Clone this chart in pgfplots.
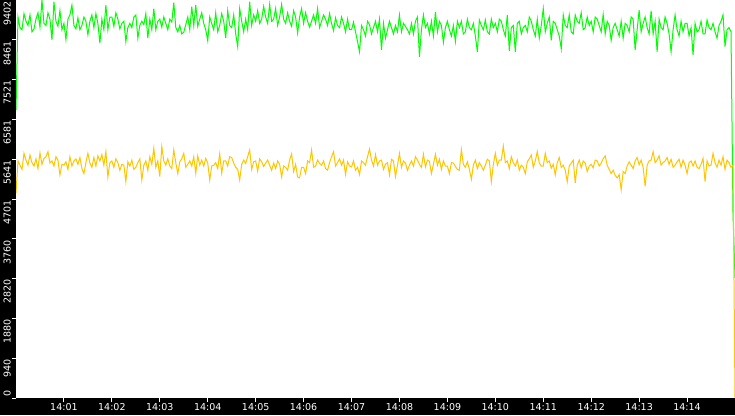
\documentclass[border=0pt]{standalone}
\usepackage{fontspec}
\setmainfont{DejaVu Sans}
\usepackage{pgfplots}
\pgfplotsset{compat=1.18}
\usepackage{pgfplotstable}
\definecolor{linegreen}{RGB}{0,255,0}
\definecolor{lineyellow}{RGB}{255,198,0}

% one sample every 2.5 s, 24 per minute, starting at 14:00
\pgfplotstableread[row sep=\\]{
v\\
6800\\ 9000\\ 8750\\ 8700\\ 9080\\ 8900\\ 8800\\ 9050\\ 8650\\ 8720\\ 8950\\ 9100\\ 8760\\ 9400\\ 8850\\ 8800\\ 9100\\ 8950\\ 8460\\ 9360\\ 8900\\ 8780\\ 9150\\ 8700\\
8850\\ 8470\\ 8950\\ 9050\\ 9280\\ 8800\\ 8720\\ 8980\\ 8700\\ 8800\\ 9000\\ 8900\\ 8580\\ 8900\\ 9050\\ 8750\\ 9080\\ 8850\\ 8380\\ 8950\\ 8700\\ 9280\\ 8700\\ 9000\\
9000\\ 8780\\ 9100\\ 8950\\ 8720\\ 8850\\ 8900\\ 8420\\ 8750\\ 8850\\ 8750\\ 9000\\ 9050\\ 8500\\ 8800\\ 8900\\ 8820\\ 9080\\ 8500\\ 8950\\ 8700\\ 9200\\ 8700\\ 8900\\
8950\\ 8760\\ 9000\\ 8850\\ 8700\\ 8950\\ 8880\\ 9340\\ 8750\\ 8650\\ 8800\\ 8600\\ 8640\\ 8820\\ 9000\\ 8700\\ 9245\\ 8800\\ 9280\\ 8780\\ 8950\\ 9100\\ 8850\\ 8700\\
8440\\ 9000\\ 8850\\ 8700\\ 9100\\ 8650\\ 8800\\ 9080\\ 8900\\ 8500\\ 9150\\ 8800\\ 8750\\ 9050\\ 8600\\ 8300\\ 9200\\ 8900\\ 8650\\ 8950\\ 8700\\ 9360\\ 8800\\ 9050\\
8900\\ 9150\\ 8850\\ 8950\\ 9250\\ 9000\\ 8850\\ 9300\\ 8900\\ 8950\\ 9200\\ 8800\\ 9000\\ 9300\\ 8950\\ 8850\\ 9100\\ 8900\\ 8780\\ 9150\\ 9000\\ 8620\\ 9000\\ 9200\\
8850\\ 9100\\ 8900\\ 8760\\ 8900\\ 9050\\ 8850\\ 9200\\ 8750\\ 8900\\ 9050\\ 8950\\ 8800\\ 9080\\ 8850\\ 8680\\ 8980\\ 8800\\ 8750\\ 9000\\ 8850\\ 8650\\ 8950\\ 8700\\
8700\\ 8880\\ 8650\\ 8420\\ 8180\\ 8800\\ 8700\\ 8550\\ 8900\\ 8820\\ 8600\\ 8750\\ 8900\\ 8650\\ 8950\\ 8220\\ 8850\\ 8500\\ 8700\\ 8900\\ 8750\\ 8600\\ 8800\\ 8650\\
9050\\ 8650\\ 8850\\ 8780\\ 8700\\ 8600\\ 8850\\ 8600\\ 8900\\ 9000\\ 8060\\ 8700\\ 9050\\ 8750\\ 8850\\ 8600\\ 8900\\ 8550\\ 9120\\ 8650\\ 8900\\ 8800\\ 8400\\ 8750\\
8900\\ 8700\\ 8550\\ 8800\\ 8420\\ 8900\\ 8750\\ 8900\\ 8600\\ 8650\\ 8950\\ 8750\\ 8700\\ 8850\\ 8550\\ 8180\\ 8930\\ 8800\\ 8700\\ 8930\\ 8650\\ 8600\\ 8950\\ 8750\\
8850\\ 8650\\ 8950\\ 8900\\ 8700\\ 8550\\ 9050\\ 8200\\ 8750\\ 8800\\ 8180\\ 8850\\ 8900\\ 8600\\ 8750\\ 8800\\ 8650\\ 9000\\ 8900\\ 8700\\ 8550\\ 8950\\ 8500\\ 8800\\
9200\\ 8650\\ 8850\\ 9000\\ 8450\\ 8900\\ 8850\\ 8700\\ 8550\\ 8250\\ 9050\\ 8800\\ 8750\\ 9050\\ 8650\\ 8600\\ 9050\\ 8900\\ 8850\\ 9100\\ 8700\\ 8750\\ 9000\\ 8800\\
8900\\ 8650\\ 9000\\ 8950\\ 8800\\ 8650\\ 9060\\ 8600\\ 8900\\ 8800\\ 8450\\ 8750\\ 8850\\ 8700\\ 8550\\ 8900\\ 8500\\ 8850\\ 8800\\ 8650\\ 9000\\ 8950\\ 8220\\ 8700\\
9160\\ 8650\\ 8850\\ 9000\\ 8750\\ 8600\\ 9150\\ 8600\\ 8900\\ 8180\\ 8950\\ 8750\\ 8700\\ 9000\\ 8850\\ 8600\\ 8180\\ 8700\\ 9050\\ 8700\\ 8550\\ 8900\\ 8650\\ 8850\\
8850\\ 8550\\ 8750\\ 8100\\ 8850\\ 8650\\ 8700\\ 8900\\ 8600\\ 8600\\ 8930\\ 8750\\ 8700\\ 8850\\ 8650\\ 8500\\ 8800\\ 8900\\ 9050\\ 8300\\ 8700\\ 8750\\ 8650\\ 4370\\
2830\\
}\greendata

\pgfplotstableread[row sep=\\]{
v\\
4843\\ 5600\\ 5500\\ 5400\\ 5780\\ 5620\\ 5500\\ 5740\\ 5560\\ 5480\\ 5650\\ 5420\\ 5790\\ 5520\\ 5660\\ 5700\\ 5820\\ 5550\\ 5600\\ 5480\\ 5700\\ 5620\\ 5270\\ 5520\\
5500\\ 5580\\ 5400\\ 5700\\ 5480\\ 5600\\ 5650\\ 5520\\ 5680\\ 5420\\ 5300\\ 5560\\ 5780\\ 5550\\ 5450\\ 5680\\ 5480\\ 5720\\ 5600\\ 5750\\ 5500\\ 5820\\ 5220\\ 5560\\
5600\\ 5450\\ 5650\\ 5560\\ 5380\\ 5520\\ 5500\\ 5110\\ 5580\\ 5480\\ 5620\\ 5400\\ 5450\\ 5560\\ 5650\\ 5150\\ 5500\\ 5600\\ 5380\\ 5700\\ 5520\\ 5900\\ 5450\\ 5600\\
5230\\ 5940\\ 5600\\ 5500\\ 5650\\ 5480\\ 5420\\ 5860\\ 5560\\ 5300\\ 5580\\ 5650\\ 5780\\ 5450\\ 5520\\ 5600\\ 5480\\ 5700\\ 5310\\ 5720\\ 5500\\ 5620\\ 5480\\ 5660\\
5550\\ 5150\\ 5480\\ 5500\\ 5560\\ 5420\\ 5770\\ 5310\\ 5600\\ 5600\\ 5480\\ 5700\\ 5680\\ 5550\\ 5450\\ 5400\\ 5150\\ 5520\\ 5620\\ 5540\\ 5700\\ 5860\\ 5400\\ 5580\\
5600\\ 5360\\ 5650\\ 5580\\ 5470\\ 5550\\ 5620\\ 5500\\ 5380\\ 5550\\ 5420\\ 5600\\ 5520\\ 5220\\ 5480\\ 5450\\ 5380\\ 5620\\ 5770\\ 5350\\ 5520\\ 5220\\ 5200\\ 5450\\
5450\\ 5300\\ 5600\\ 5560\\ 5860\\ 5450\\ 5480\\ 5620\\ 5540\\ 5500\\ 5600\\ 5420\\ 5380\\ 5560\\ 5700\\ 5820\\ 5480\\ 5560\\ 5650\\ 5500\\ 5620\\ 5280\\ 5580\\ 5480\\
5460\\ 5600\\ 5380\\ 5450\\ 5280\\ 5600\\ 5560\\ 5500\\ 5700\\ 5880\\ 5620\\ 5480\\ 5750\\ 5500\\ 5600\\ 5620\\ 5400\\ 5520\\ 5560\\ 5270\\ 5640\\ 5600\\ 5230\\ 5500\\
5780\\ 5450\\ 5600\\ 5550\\ 5380\\ 5500\\ 5600\\ 5480\\ 5700\\ 5620\\ 5520\\ 5450\\ 5760\\ 5460\\ 5620\\ 5590\\ 5300\\ 5520\\ 5760\\ 5500\\ 5640\\ 5400\\ 5600\\ 5480\\
5480\\ 5300\\ 5560\\ 5550\\ 5470\\ 5400\\ 5380\\ 5870\\ 5520\\ 5450\\ 5580\\ 5400\\ 5170\\ 5500\\ 5620\\ 5420\\ 5560\\ 5480\\ 5380\\ 5500\\ 5640\\ 5600\\ 5110\\ 5520\\
5780\\ 5500\\ 5620\\ 5620\\ 5950\\ 5560\\ 5600\\ 5420\\ 5700\\ 5560\\ 5480\\ 5620\\ 5380\\ 5500\\ 5450\\ 5300\\ 5580\\ 5650\\ 5740\\ 5450\\ 5600\\ 5820\\ 5550\\ 5480\\
5480\\ 5780\\ 5560\\ 5600\\ 5430\\ 5520\\ 5270\\ 5560\\ 5680\\ 5450\\ 5500\\ 5380\\ 5110\\ 5480\\ 5550\\ 5620\\ 5080\\ 5500\\ 5620\\ 5440\\ 5600\\ 5550\\ 5350\\ 5480\\
5520\\ 5440\\ 5620\\ 5600\\ 5480\\ 5550\\ 5650\\ 5720\\ 5500\\ 5400\\ 5300\\ 5380\\ 5260\\ 5200\\ 5280\\ 4920\\ 5350\\ 5300\\ 5480\\ 5580\\ 5500\\ 5420\\ 5600\\ 5680\\
5510\\ 5620\\ 5450\\ 5000\\ 5500\\ 5600\\ 5620\\ 5820\\ 5560\\ 5620\\ 5720\\ 5500\\ 5560\\ 5600\\ 5680\\ 5520\\ 5640\\ 5450\\ 5500\\ 5580\\ 5640\\ 5450\\ 5620\\ 5500\\
5300\\ 5560\\ 5600\\ 5480\\ 5600\\ 5450\\ 5420\\ 5520\\ 5660\\ 5110\\ 5600\\ 5480\\ 5500\\ 5780\\ 5560\\ 5450\\ 5620\\ 5500\\ 5700\\ 5400\\ 5620\\ 5560\\ 5450\\ 5500\\
0\\
}\yellowdata

\begin{document}
\begin{tikzpicture}
\fill[black] (0pt,0pt) rectangle (735pt,415pt);
\begin{axis}[
  at={(16pt,17pt)}, anchor=south west,
  scale only axis,
  width=719pt, height=398pt,
  xmin=0, xmax=15,
  ymin=0, ymax=9402,
  axis background/.style={fill=white},
  axis line style={draw=none},
  xtick={1,...,14},
  xticklabels={14:01,14:02,14:03,14:04,14:05,14:06,14:07,14:08,14:09,14:10,14:11,14:12,14:13,14:14},
  ytick={940.2,1880.4,2820.6,3760.8,4701,5641.2,6581.4,7521.6,8461.8,9402},
  yticklabels={940,1880,2820,3760,4701,5641,6581,7521,8461,9402},
  extra y ticks={0},
  extra y tick labels={0},
  extra y tick style={yticklabel style={anchor=south west}},
  xtick pos=bottom, ytick pos=left,
  tick align=outside,
  major tick length=4pt,
  tick style={white, line width=1pt},
  ticklabel style={font=\fontsize{9.5}{10}\selectfont, text=white, inner sep=1pt},
  yticklabel style={rotate=90, anchor=south east},
  xticklabel style={anchor=north},
]
  \addplot[linegreen, line width=1pt] table[x expr=\coordindex/24, y=v] {\greendata};
  \addplot[lineyellow, line width=1pt] table[x expr=\coordindex/24, y=v] {\yellowdata};
\end{axis}
\pgfresetboundingbox
\useasboundingbox (0pt,0pt) rectangle (735pt,415pt);
\end{tikzpicture}
\end{document}
